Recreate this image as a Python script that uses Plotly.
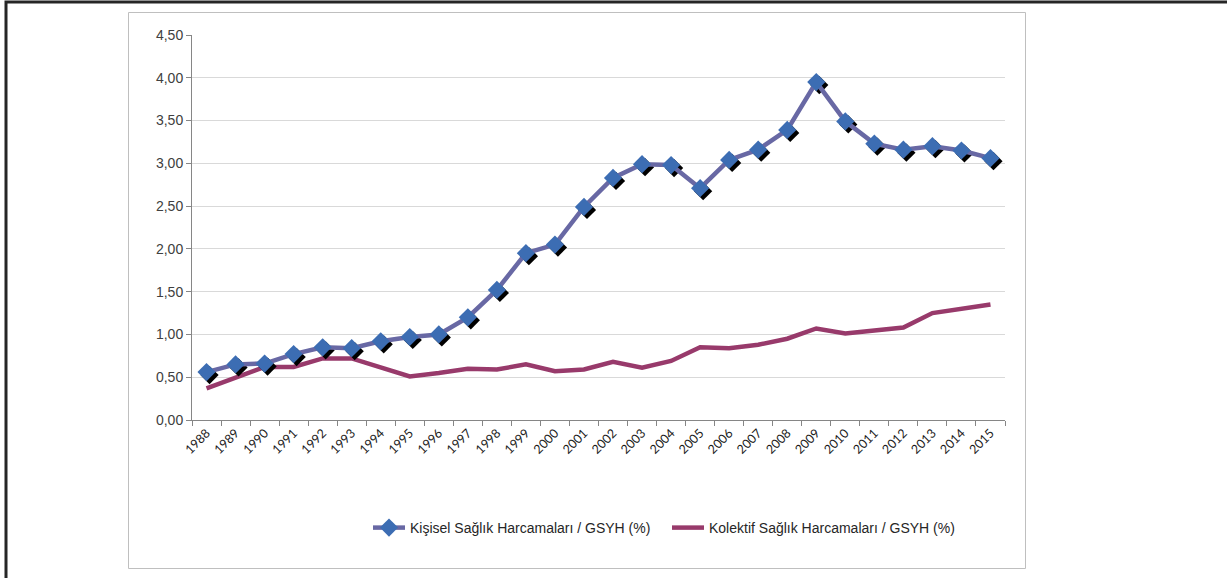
import plotly.graph_objects as go

years = list(range(1988, 2016))
kisisel = [0.56, 0.65, 0.66, 0.77, 0.85, 0.84, 0.92, 0.97, 1.00, 1.20, 1.52, 1.95, 2.05, 2.49,
           2.83, 2.99, 2.98, 2.71, 3.04, 3.16, 3.39, 3.95, 3.49, 3.23, 3.16, 3.20, 3.15, 3.06]
kolektif = [0.37, 0.49, 0.62, 0.62, 0.72, 0.72, 0.62, 0.51, 0.55, 0.60, 0.59, 0.65, 0.57, 0.59,
            0.68, 0.61, 0.69, 0.85, 0.84, 0.88, 0.95, 1.07, 1.01, 1.04, 1.08, 1.25, 1.30, 1.35]
name1 = "Kişisel Sağlık Harcamaları / GSYH (%)"
name2 = "Kolektif Sağlık Harcamaları / GSYH (%)"

W, H = 1227, 578
L, T = 192, 35
pw, ph = 813, 385
R, B = W - L - pw, H - T - ph

def px_x(p):
    return (p - L) / pw

def px_y(p):
    return (T + ph - p) / ph

# shadow offset in data units (3px right, 3px down)
dx = 3 / (pw / len(years))
dy = 3 / (ph / 4.5)

fig = go.Figure()
fig.add_trace(go.Scatter(
    x=years, y=kolektif, mode="lines", name=name2,
    line=dict(color="#983a6b", width=4.5), hoverinfo="skip", showlegend=False))
fig.add_trace(go.Scatter(
    x=[y + dx for y in years], y=[v - dy for v in kisisel], mode="markers",
    marker=dict(symbol="diamond", size=14, color="#000000"),
    showlegend=False, hoverinfo="skip"))
fig.add_trace(go.Scatter(
    x=years, y=kisisel, mode="lines+markers", name=name1,
    line=dict(color="#6868a4", width=4.5),
    marker=dict(symbol="diamond", size=14, color="#3c6db3", line=dict(width=0)),
    hoverinfo="skip", legend="legend"))
fig.add_trace(go.Scatter(
    x=[None], y=[None], mode="lines", name=name2,
    line=dict(color="#983a6b", width=4.5), hoverinfo="skip", legend="legend2"))

shapes = [
    dict(type="rect", xref="paper", yref="paper",
         x0=px_x(6), x1=px_x(1260), y0=px_y(620), y1=px_y(2),
         line=dict(color="#262626", width=3), layer="below"),
    dict(type="rect", xref="paper", yref="paper",
         x0=px_x(128.5), x1=px_x(1025.5), y0=px_y(568.5), y1=px_y(12.5),
         line=dict(color="#bfbfbf", width=1), layer="below"),
]

legfont = dict(family="Liberation Sans, Arial", size=14, color="#262626")

fig.update_layout(
    width=W, height=H,
    margin=dict(l=L, r=R, t=T, b=B),
    paper_bgcolor="white", plot_bgcolor="white",
    separators=",.",
    shapes=shapes,
    showlegend=True,
    legend=dict(orientation="h", x=px_x(368), y=px_y(528), xanchor="left", yanchor="middle",
                font=legfont, itemwidth=32, bgcolor="rgba(0,0,0,0)"),
    legend2=dict(orientation="h", x=px_x(667), y=px_y(528), xanchor="left", yanchor="middle",
                 font=legfont, itemwidth=32, bgcolor="rgba(0,0,0,0)"),
    xaxis=dict(
        range=[1987.5, 2015.5], tickmode="array", tickvals=years,
        ticktext=[str(y) for y in years], tickangle=-45, ticks="",
        tickfont=dict(family="Lato, Liberation Sans", size=12.5, color="#1a1a1a"),
        showgrid=False, zeroline=False, showline=True, linecolor="#868686", linewidth=1,
        minor=dict(ticks="outside", tick0=1987.5, dtick=1, ticklen=5, tickcolor="#868686", showgrid=False),
        fixedrange=True),
    yaxis=dict(
        range=[0, 4.5], dtick=0.5, tick0=0, tickformat=".2f",
        ticks="outside", ticklen=5, tickcolor="#868686",
        tickfont=dict(family="Liberation Sans, Arial", size=14, color="#404040"),
        showgrid=True, gridcolor="#d9d9d9", gridwidth=1, zeroline=False,
        showline=True, linecolor="#868686", linewidth=1, fixedrange=True),
)

fig.write_html("out.html", config={"displayModeBar": False},
               post_script="document.body.style.margin='0';")
